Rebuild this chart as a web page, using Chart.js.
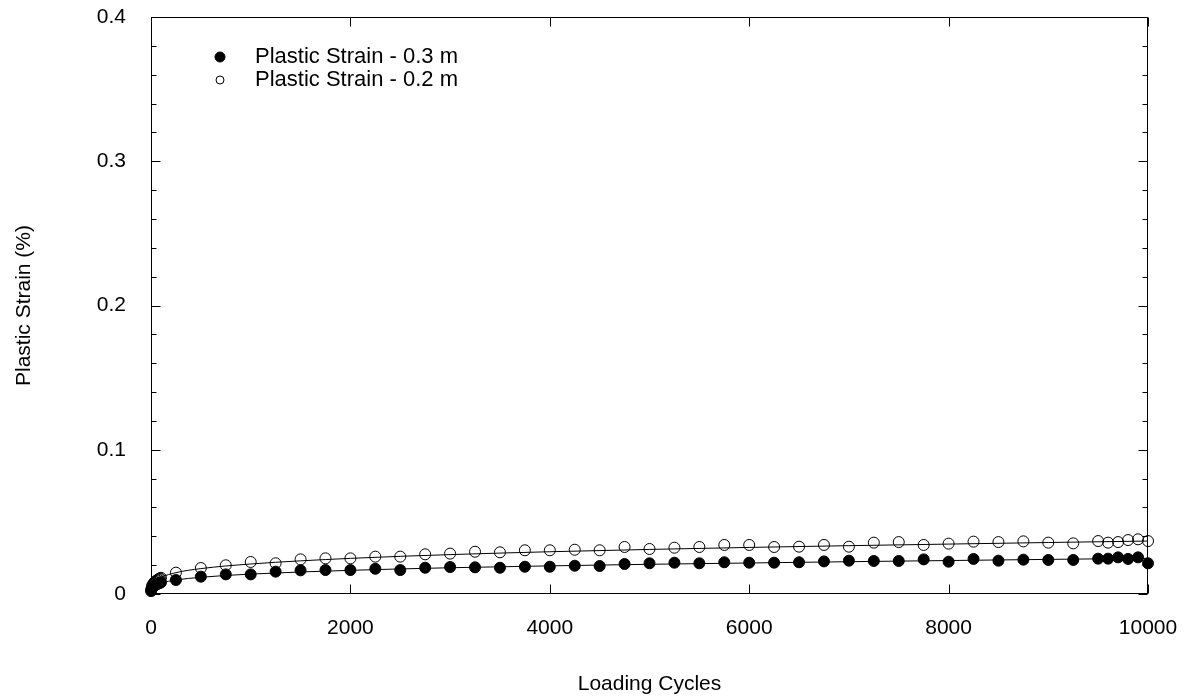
<!DOCTYPE html>
<html>
<head>
<meta charset="utf-8">
<title>Plastic Strain vs Loading Cycles</title>
<script src="https://cdn.jsdelivr.net/npm/chart.js@4.4.0/dist/chart.umd.min.js"></script>
<style>
  html, body { margin: 0; padding: 0; background: #fff; }
</style>
</head>
<body>
<canvas id="strainChart" width="1189" height="700"></canvas>
<script>
// Measured loading cycles (same for both depths)
const cycles = [1, 10, 20, 30, 40, 50, 60, 70, 80, 90, 100,
  250, 500, 750, 1000, 1250, 1500, 1750, 2000, 2250, 2500, 2750, 3000, 3250,
  3500, 3750, 4000, 4250, 4500, 4750, 5000, 5250, 5500, 5750, 6000, 6250,
  6500, 6750, 7000, 7250, 7500, 7750, 8000, 8250, 8500, 8750, 9000, 9250,
  9500, 9600, 9700, 9800, 9900, 10000];

// Plastic strain (%) at 0.3 m
const strain03 = [0.0020, 0.0038, 0.0048, 0.0055, 0.0060, 0.0065, 0.0069, 0.0072, 0.0075, 0.0078, 0.0080,
  0.0097, 0.0120, 0.0136, 0.0136, 0.0155, 0.0164, 0.0166, 0.0166, 0.0175, 0.0166, 0.0182, 0.0187, 0.0185,
  0.0182, 0.0189, 0.0189, 0.0196, 0.0194, 0.0208, 0.0213, 0.0217, 0.0213, 0.0220, 0.0217, 0.0217,
  0.0220, 0.0226, 0.0231, 0.0229, 0.0229, 0.0240, 0.0224, 0.0243, 0.0231, 0.0238, 0.0236, 0.0236,
  0.0245, 0.0245, 0.0254, 0.0243, 0.0254, 0.0213];

// Plastic strain (%) at 0.2 m
const strain02 = [0.0030, 0.0055, 0.0068, 0.0077, 0.0084, 0.0090, 0.0095, 0.0100, 0.0104, 0.0108, 0.0112,
  0.0148, 0.0180, 0.0199, 0.0222, 0.0213, 0.0240, 0.0247, 0.0247, 0.0259, 0.0259, 0.0275, 0.0280, 0.0293,
  0.0289, 0.0303, 0.0303, 0.0307, 0.0303, 0.0326, 0.0312, 0.0321, 0.0326, 0.0340, 0.0340, 0.0326,
  0.0328, 0.0340, 0.0328, 0.0356, 0.0360, 0.0340, 0.0349, 0.0363, 0.0360, 0.0365, 0.0356, 0.0351,
  0.0367, 0.0356, 0.0360, 0.0374, 0.0379, 0.0367];

// Trend curves through each set
const fitCycles = [1, 10, 50, 100, 250, 500, 1000, 2000, 3000, 4000, 5000, 6000, 7000, 8000, 9000, 10000];
const fit03 = [0.0024, 0.0043, 0.0065, 0.0077, 0.0097, 0.0116, 0.0138, 0.0164, 0.0182, 0.0195, 0.0206, 0.0215, 0.0224, 0.0232, 0.0240, 0.0247];
const fit02 = [0.0038, 0.0066, 0.0098, 0.0116, 0.0148, 0.0176, 0.0208, 0.0247, 0.0273, 0.0293, 0.0309, 0.0323, 0.0335, 0.0346, 0.0357, 0.0367];

const xTickLabels = ['0', '2000', '4000', '6000', '8000', '10000'];
const yTickLabels = ['0', '0.1', '0.2', '0.3', '0.4'];

const FONT = 'Liberation Sans, Arial, sans-serif';

const toPoints = (xs, ys) => xs.map((x, i) => ({ x: x, y: ys[i] }));

// Box frame with inward tick marks
const frameTicks = {
  id: 'frameTicks',
  beforeDatasetsDraw(chart) {
    const { ctx, chartArea: a, scales: { x, y } } = chart;
    ctx.save();
    ctx.strokeStyle = '#000';
    ctx.lineWidth = 1;
    const l = Math.round(a.left) + 0.5, r = Math.round(a.right) - 0.5;
    const t = Math.round(a.top) + 0.5, b = Math.round(a.bottom) - 0.5;
    ctx.strokeRect(l, t, r - l, b - t);
    ctx.beginPath();
    for (let v = 0; v <= 10000; v += 2000) {
      const px = Math.round(x.getPixelForValue(v)) + 0.5;
      ctx.moveTo(px, b); ctx.lineTo(px, b - 9);
      ctx.moveTo(px, t); ctx.lineTo(px, t + 9);
    }
    for (let i = 0; i <= 20; i++) {
      const py = Math.round(y.getPixelForValue(i * 0.02)) + 0.5;
      const len = i % 5 === 0 ? 9 : 5;
      ctx.moveTo(l, py); ctx.lineTo(l + len, py);
      ctx.moveTo(r, py); ctx.lineTo(r - len, py);
    }
    ctx.stroke();
    ctx.restore();
  }
};

// Legend inside the plot, top left
const insideLegend = {
  id: 'insideLegend',
  afterDraw(chart) {
    const { ctx } = chart;
    const rows = [
      { ds: chart.data.datasets[0], y: 57, r: 5 },
      { ds: chart.data.datasets[1], y: 80, r: 4 }
    ];
    ctx.save();
    ctx.font = '22px ' + FONT;
    ctx.textBaseline = 'middle';
    ctx.textAlign = 'left';
    rows.forEach(row => {
      ctx.beginPath();
      ctx.arc(220, row.y, row.r, 0, Math.PI * 2);
      ctx.fillStyle = row.ds.backgroundColor;
      ctx.fill();
      ctx.strokeStyle = '#000';
      ctx.lineWidth = 1;
      ctx.stroke();
      ctx.fillStyle = '#000';
      ctx.fillText(row.ds.label, 255, row.y);
    });
    ctx.restore();
  }
};

new Chart(document.getElementById('strainChart'), {
  type: 'scatter',
  data: {
    datasets: [
      {
        label: 'Plastic Strain - 0.3 m',
        data: toPoints(cycles, strain03),
        pointRadius: 5.5,
        backgroundColor: '#000',
        borderColor: '#000',
        borderWidth: 1,
        clip: false
      },
      {
        label: 'Plastic Strain - 0.2 m',
        data: toPoints(cycles, strain02),
        pointRadius: 5.5,
        backgroundColor: 'rgba(0,0,0,0)',
        borderColor: '#000',
        borderWidth: 1,
        clip: false
      },
      {
        label: 'fit 0.3 m',
        data: toPoints(fitCycles, fit03),
        showLine: true,
        pointRadius: 0,
        borderColor: '#000',
        borderWidth: 1,
        cubicInterpolationMode: 'monotone'
      },
      {
        label: 'fit 0.2 m',
        data: toPoints(fitCycles, fit02),
        showLine: true,
        pointRadius: 0,
        borderColor: '#000',
        borderWidth: 1,
        cubicInterpolationMode: 'monotone'
      }
    ]
  },
  options: {
    responsive: false,
    animation: false,
    layout: { padding: { left: 0, top: 17, right: 41, bottom: 0 } },
    plugins: {
      legend: { display: false },
      tooltip: { enabled: false }
    },
    scales: {
      x: {
        type: 'linear',
        min: 0,
        max: 10000,
        grid: { display: false, drawTicks: false },
        border: { display: false },
        ticks: {
          stepSize: 2000,
          padding: 22,
          maxRotation: 0,
          color: '#000',
          font: { family: FONT, size: 21 },
          callback: (value, index) => xTickLabels[index]
        },
        title: {
          display: true,
          text: 'Loading Cycles',
          color: '#000',
          font: { family: FONT, size: 21 },
          padding: { top: 0, bottom: 3 }
        },
        afterFit: (scale) => {
          scale.height = 106;
          scale.paddingLeft = 0;
          scale.paddingRight = 0;
        }
      },
      y: {
        type: 'linear',
        min: 0,
        max: 0.4,
        grid: { display: false, drawTicks: false },
        border: { display: false },
        ticks: {
          stepSize: 0.1,
          padding: 25,
          color: '#000',
          font: { family: FONT, size: 21 },
          callback: (value, index) => yTickLabels[index]
        },
        title: {
          display: true,
          text: 'Plastic Strain (%)',
          color: '#000',
          font: { family: FONT, size: 21 },
          padding: { top: 12, bottom: 0 }
        },
        afterFit: (scale) => {
          scale.width = 151;
          scale.paddingTop = 0;
          scale.paddingBottom = 0;
        }
      }
    }
  },
  plugins: [frameTicks, insideLegend]
});
</script>
</body>
</html>
